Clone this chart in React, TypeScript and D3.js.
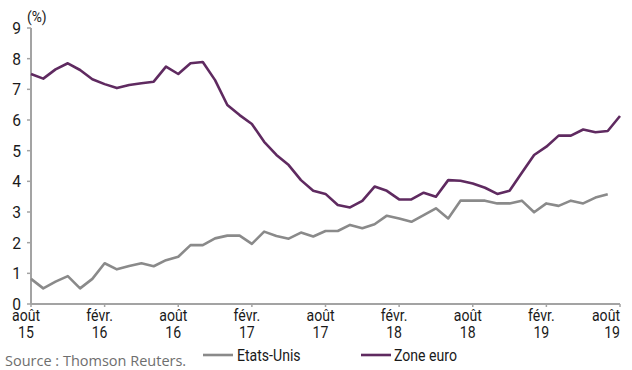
import React from "react";
import * as d3 from "d3";

// Monthly data from August 2015 (index 0) to August 2019 (index 48)
const months: string[] = d3.range(49).map((i) => d3.timeFormat("%Y-%m")(new Date(2015, 7 + i, 1)));

const etatsUnis: number[] = [
  0.82, 0.51, 0.73, 0.91, 0.51, 0.82, 1.33, 1.13, 1.24, 1.33, 1.23, 1.43,
  1.54, 1.92, 1.92, 2.14, 2.23, 2.23, 1.96, 2.36, 2.22, 2.13, 2.33, 2.2,
  2.38, 2.38, 2.58, 2.47, 2.6, 2.88, 2.79, 2.68, 2.9, 3.12, 2.79, 3.37,
  3.37, 3.37, 3.28, 3.28, 3.37, 2.99, 3.28, 3.2, 3.37, 3.28, 3.47, 3.58,
];

const zoneEuro: number[] = [
  7.5, 7.35, 7.65, 7.85, 7.63, 7.33, 7.17, 7.04, 7.14, 7.2, 7.25, 7.74,
  7.5, 7.85, 7.89, 7.3, 6.49, 6.16, 5.87, 5.29, 4.86, 4.53, 4.04, 3.69,
  3.59, 3.23, 3.15, 3.36, 3.83, 3.69, 3.41, 3.41, 3.63, 3.5, 4.04, 4.02,
  3.93, 3.79, 3.59, 3.69, 4.28, 4.86, 5.13, 5.49, 5.49, 5.69, 5.6, 5.64,
  6.13,
];

const yTicks: number[] = [0, 1, 2, 3, 4, 5, 6, 7, 8, 9];
const xTickIndex: number[] = [0, 6, 12, 18, 24, 30, 36, 42, 48];
const xTickLabels: [string, string][] = [
  ["août", "15"], ["févr.", "16"], ["août", "16"], ["févr.", "17"], ["août", "17"],
  ["févr.", "18"], ["août", "18"], ["févr.", "19"], ["août", "19"],
];

const GREY = "#8a8a8a";
const PURPLE = "#5f2a60";
const AXIS = "#a3a3a3";
const INK = "#1a1a1a";
const FONT = "Roboto, sans-serif";

// Narrow text: horizontally squeezed around its anchor point
function Narrow(props: {
  x: number;
  y: number;
  size: number;
  anchor?: "start" | "middle" | "end";
  squeeze?: number;
  fill?: string;
  children: React.ReactNode;
}) {
  const s = props.squeeze ?? 0.88;
  return (
    <g transform={`translate(${props.x},${props.y}) scale(${s},1)`}>
      <text x={0} y={0} fontSize={props.size} textAnchor={props.anchor ?? "start"} fill={props.fill ?? INK}>
        {props.children}
      </text>
    </g>
  );
}

export default function App() {
  const W = 632;
  const H = 370;
  const x = d3.scaleLinear().domain([0, 48]).range([31, 620]);
  const y = d3.scaleLinear().domain([0, 9]).range([304, 28]);
  const line = d3
    .line<number>()
    .x((_, i) => x(i))
    .y((d) => y(d));

  return (
    <svg
      width={W}
      height={H}
      style={{ position: "absolute", left: 0, top: 0, background: "#fff" }}
      fontFamily={FONT}
    >
      {/* y axis */}
      <line x1={x(0)} x2={x(0)} y1={y(9)} y2={y(0)} stroke={AXIS} strokeWidth={2} />
      {yTicks.map((t) => (
        <g key={t}>
          <line x1={x(0) - 4} x2={x(0)} y1={y(t)} y2={y(t)} stroke={AXIS} strokeWidth={1.5} />
          <Narrow x={21} y={y(t) + 6} size={17} anchor="end" squeeze={0.92}>
            {t}
          </Narrow>
        </g>
      ))}
      <Narrow x={27} y={22} size={15} squeeze={0.92}>(%)</Narrow>

      {/* x axis */}
      <line x1={x(0)} x2={x(48)} y1={y(0)} y2={y(0)} stroke={AXIS} strokeWidth={2} />
      {xTickIndex.map((i, k) => {
        const last = k === xTickIndex.length - 1;
        const lx = last ? x(i) : x(i) - 5;
        const anchor = last ? "end" : "middle";
        return (
          <g key={months[i]}>
            <line x1={x(i)} x2={x(i)} y1={y(0)} y2={y(0) + 3} stroke={AXIS} strokeWidth={1.5} />
            <Narrow x={lx} y={321} size={16} anchor={anchor}>
              {xTickLabels[k][0]}
            </Narrow>
            <Narrow x={lx} y={338} size={16} anchor={anchor}>
              {xTickLabels[k][1]}
            </Narrow>
          </g>
        );
      })}

      {/* series */}
      <path d={line(etatsUnis) ?? ""} fill="none" stroke={GREY} strokeWidth={2.6} strokeLinejoin="round" />
      <path d={line(zoneEuro) ?? ""} fill="none" stroke={PURPLE} strokeWidth={2.6} strokeLinejoin="round" />

      {/* legend */}
      <line x1={203} x2={233} y1={355} y2={355} stroke={GREY} strokeWidth={2.6} />
      <Narrow x={237} y={361} size={16}>Etats-Unis</Narrow>
      <line x1={361} x2={391} y1={355} y2={355} stroke={PURPLE} strokeWidth={2.6} />
      <Narrow x={394} y={361} size={16}>Zone euro</Narrow>

      {/* source */}
      <text x={5} y={366} fontSize={14.5} fontFamily="'Open Sans', sans-serif" fill="#6e6e6e">
        Source : Thomson Reuters.
      </text>
    </svg>
  );
}
